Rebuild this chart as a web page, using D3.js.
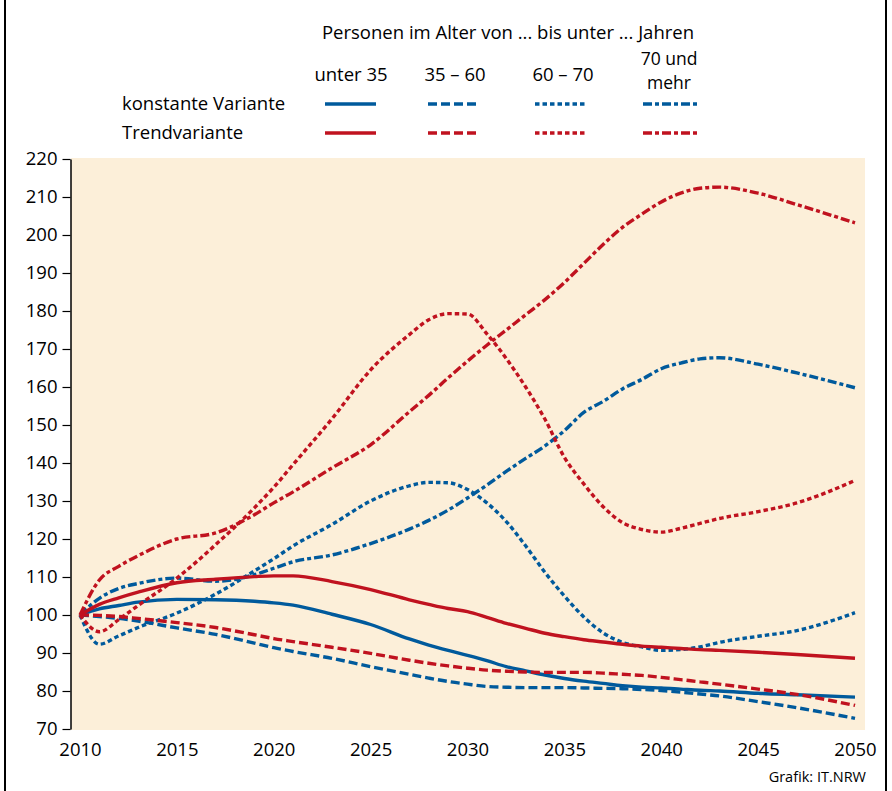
<!DOCTYPE html>
<html><head><meta charset="utf-8">
<script src="https://cdn.jsdelivr.net/npm/d3@7"></script>
<style>
body{margin:0;background:#fff}
svg{display:block}
text{font-family:"Open Sans",sans-serif;fill:#000}
</style>
</head><body>
<svg id="chart" width="892" height="791"></svg>
<script>
// ---- data ----
const years = [2010,2011,2012,2013,2015,2017,2019,2020,2021,2023,2025,2027,2028,2029,2030,2031,2032,2033,2034,2035,2036,2037,2038,2039,2040,2041,2042,2043,2045,2047,2050];

// konstante Variante
const konstUnter35 = [100,101.6,102.5,103.4,104.1,104,103.6,103.2,102.6,100.2,97.5,93.7,92.1,90.7,89.4,88,86.4,85.3,84.2,83.3,82.6,82,81.4,81,80.8,80.5,80.2,80,79.4,79,78.4];
const konst35bis60 = [100,99.6,99.1,98.4,96.6,94.9,92.6,91.4,90.4,88.6,86.4,84.4,83.4,82.5,81.8,81.2,81,80.9,80.9,80.9,80.8,80.7,80.6,80.4,80.1,79.7,79.2,78.7,77.2,75.6,72.8];
const konst60bis70 = [100,92.3,94.5,96.7,100.5,105.5,111.6,114.8,118.2,123.8,130,134,134.9,134.8,133,129.5,124.6,118.2,111.2,105,99.5,95.3,92.8,91.6,90.7,90.9,91.6,92.8,94.4,95.9,100.6];
const konst70plus  = [100,104.4,107,108.3,109.7,108.9,110.6,112.3,114,115.8,118.8,122.6,124.9,127.6,130.8,134.2,137.8,141.2,144.5,148.5,153.3,156.2,159.5,162,164.8,166.3,167.4,167.7,166,163.7,159.8];

// Trendvariante
const trendUnter35 = [100,102.8,104.5,106,108.5,109.4,110.1,110.3,110.3,108.8,106.7,104,102.8,101.7,100.9,99.4,97.8,96.5,95.2,94.3,93.5,92.9,92.3,91.8,91.5,91.2,90.9,90.7,90.2,89.6,88.6];
const trend35bis60 = [100,99.9,99.6,99.1,98,96.7,94.8,93.8,93,91.5,89.9,88.1,87.3,86.6,86,85.5,85.2,85,84.9,84.9,84.9,84.7,84.4,84.1,83.6,83,82.4,81.8,80.5,79.1,76.2];
const trend60bis70 = [100,95.6,98.8,102.5,109.7,118.5,128.2,133.6,139.6,151.6,164.5,173.8,177.7,179.3,179.2,174,167.5,160,151.5,141.5,134.5,128.5,124.3,122.5,121.8,122.8,124.1,125.4,127.2,129.5,135.4];
const trend70plus  = [100,109.2,112.8,115.6,120,121.6,126.4,129.5,132.4,138.7,144.8,153.5,157.8,162.4,166.8,171,175,179,183,187.5,192.5,197.5,202,205.5,208.7,211,212.3,212.6,211,208,203.2];

const ageGroups = ["unter 35", "35 – 60", "60 – 70", "70 und|mehr"];
const variants = ["konstante Variante", "Trendvariante"];
const legendTitle = "Personen im Alter von ... bis unter ... Jahren";
const yTicks = [70,80,90,100,110,120,130,140,150,160,170,180,190,200,210,220];
const xTicks = [2010,2015,2020,2025,2030,2035,2040,2045,2050];
const source = "Grafik: IT.NRW";

// ---- styles ----
const colors = {"konstante Variante":"#005a9c", "Trendvariante":"#c0121f"};
const dashes = ["none", "9,4", "4.5,3", "9,3,4,3"];
const FS = 18.5;

const seriesList = [
  {variant:0, group:0, values:konstUnter35},
  {variant:0, group:1, values:konst35bis60},
  {variant:0, group:2, values:konst60bis70},
  {variant:0, group:3, values:konst70plus},
  {variant:1, group:0, values:trendUnter35},
  {variant:1, group:1, values:trend35bis60},
  {variant:1, group:2, values:trend60bis70},
  {variant:1, group:3, values:trend70plus}
];

const svg = d3.select("#chart");

// frame
svg.append("rect").attr("x",5).attr("y",-10).attr("width",881).attr("height",820)
  .attr("fill","none").attr("stroke","#000").attr("stroke-width",2);

const x = d3.scaleLinear().domain([2010,2050]).range([80,855]);
const y = d3.scaleLinear().domain([70,220]).range([729,159]);

// plot background
svg.append("rect").attr("x",71).attr("y",158).attr("width",794).attr("height",572).attr("fill","#fcefd9");

// y axis
const yAxis = svg.append("g").attr("transform","translate(70.5,0)")
  .call(d3.axisLeft(y).tickValues(yTicks).tickSize(8).tickSizeOuter(0).tickPadding(5));
yAxis.select(".domain").attr("stroke","#000").attr("stroke-width",1.5);
yAxis.selectAll(".tick line").attr("stroke","#000").attr("stroke-width",1.2);
yAxis.selectAll(".tick text").attr("font-family","Open Sans").attr("font-size",FS).attr("fill","#000");

// x axis labels
const xAxis = svg.append("g").attr("transform","translate(0,736)")
  .call(d3.axisBottom(x).tickValues(xTicks).tickFormat(d3.format("d")).tickSize(0).tickPadding(7));
xAxis.select(".domain").remove();
xAxis.selectAll(".tick text").attr("font-family","Open Sans").attr("font-size",FS).attr("fill","#000");

// lines
const line = d3.line().x((d,i)=>x(years[i])).y(d=>y(d)).curve(d3.curveMonotoneX);
svg.append("g").selectAll("path").data(seriesList).join("path")
  .attr("d", d=>line(d.values))
  .attr("fill","none")
  .attr("stroke", d=>colors[variants[d.variant]])
  .attr("stroke-width",3.4)
  .attr("stroke-dasharray", d=>dashes[d.group])
  .attr("stroke-linejoin","round");

// legend
svg.append("text").attr("x",508).attr("y",39).attr("text-anchor","middle").attr("font-size",FS).text(legendTitle);
const colX = [351, 455, 563, 669];
const sampleX = [[325,376],[428,480],[535,585],[643,697]];
ageGroups.forEach((g,i)=>{
  const parts = g.split("|");
  if (parts.length === 1) {
    svg.append("text").attr("x",colX[i]).attr("y",81).attr("text-anchor","middle").attr("font-size",FS).text(parts[0]);
  } else {
    parts.forEach((p,j)=>{
      svg.append("text").attr("x",colX[i]).attr("y",65+j*24).attr("text-anchor","middle").attr("font-size",FS-1).text(p);
    });
  }
});
const rowY = [104, 133];
variants.forEach((v,r)=>{
  svg.append("text").attr("x",122).attr("y",rowY[r]+6).attr("font-size",FS).text(v);
  ageGroups.forEach((g,i)=>{
    svg.append("line").attr("x1",sampleX[i][0]).attr("x2",sampleX[i][1])
      .attr("y1",rowY[r]).attr("y2",rowY[r])
      .attr("stroke",colors[v]).attr("stroke-width",3.4)
      .attr("stroke-dasharray",dashes[i]);
  });
});

// source
svg.append("text").attr("x",866).attr("y",782).attr("text-anchor","end").attr("font-size",14.5).text(source);
</script>
</body></html>
